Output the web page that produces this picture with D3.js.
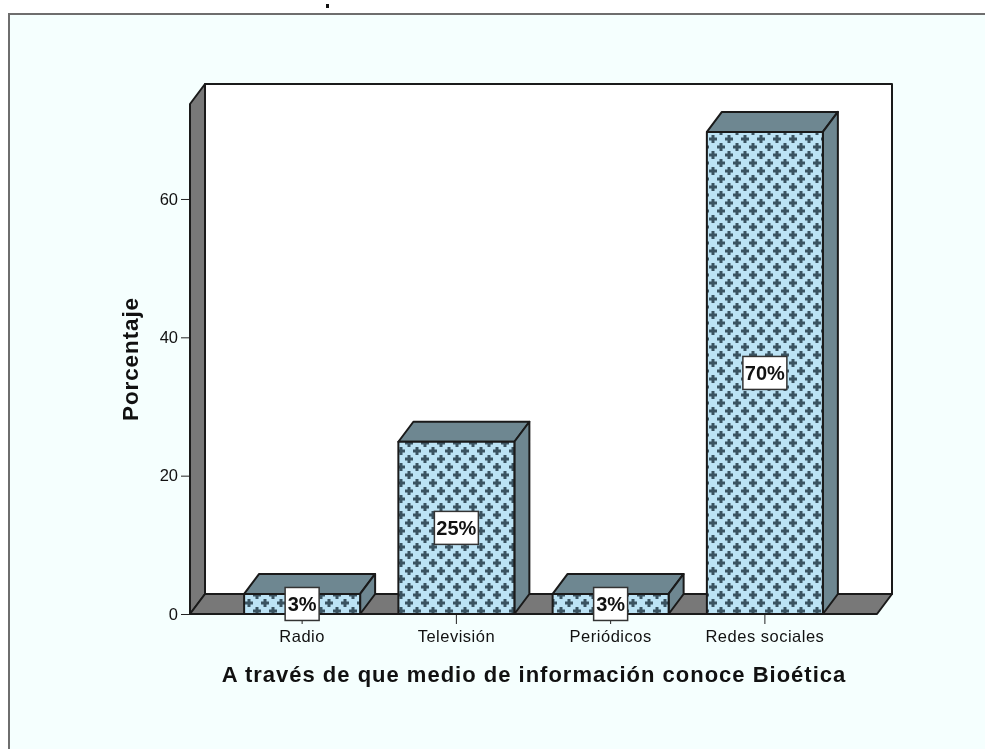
<!DOCTYPE html>
<html>
<head>
<meta charset="utf-8">
<script src="https://d3js.org/d3.v7.min.js"></script>
<style>
  html, body { margin: 0; padding: 0; background: #fff; overflow: hidden; }
  svg { display: block; font-family: "Liberation Sans", Arial, sans-serif; filter: blur(0.4px); }
</style>
</head>
<body>
<svg width="985" height="749"></svg>
<script>
// Chart values
const categories = ["Radio", "Televisión", "Periódicos", "Redes sociales"];
const values = [2.9, 24.9, 2.9, 69.7];
const labels = ["3%", "25%", "3%", "70%"];
const yTicks = [0, 20, 40, 60];
const yTitle = "Porcentaje";
const xTitle = "A través de que medio de información conoce Bioética";

const svg = d3.select("svg");

// Depth of the 3D effect
const dx = 15, dy = -20;
const pLeft = 190, pRight = 877, pBottom = 614, pTop = 104;

const x = d3.scaleBand().domain(categories).range([225, 842]).paddingInner(0.248).paddingOuter(0.124);
const y = d3.scaleLinear().domain([0, 73.73]).range([pBottom, pTop]);

const line = (pts) => "M" + pts.map((p) => p.join(",")).join("L") + "Z";

// Cross pattern for the bar fronts
const defs = svg.append("defs");
const pat = defs.append("pattern")
    .attr("id", "cross")
    .attr("patternUnits", "userSpaceOnUse")
    .attr("width", 16).attr("height", 16)
    .attr("x", 5).attr("y", 7);
pat.append("rect").attr("width", 16).attr("height", 16).attr("fill", "#bce3f5");
const cross = (cx, cy) => {
    pat.append("rect").attr("x", cx - 1.5).attr("y", cy - 4).attr("width", 3).attr("height", 8).attr("fill", "#3a5361");
    pat.append("rect").attr("x", cx - 4).attr("y", cy - 1.5).attr("width", 8).attr("height", 3).attr("fill", "#3a5361");
};
cross(4, 4);
cross(12, 12);

// Panel background and frame
svg.append("rect").attr("x", 9).attr("y", 14).attr("width", 976).attr("height", 735).attr("fill", "#f5fffe");
svg.append("path").attr("d", "M9,749V14H985").attr("fill", "none").attr("stroke", "#6e6e6e").attr("stroke-width", 2);
svg.append("rect").attr("x", 326).attr("y", 4).attr("width", 3).attr("height", 4).attr("fill", "#111");

// Back wall, side wall, floor
const face = (pts, fill) => svg.append("path")
    .attr("d", line(pts))
    .attr("fill", fill)
    .attr("stroke", "#1a1a1a")
    .attr("stroke-width", 2)
    .attr("stroke-linejoin", "round");

face([[pLeft + dx, pTop + dy], [pRight + dx, pTop + dy], [pRight + dx, pBottom + dy], [pLeft + dx, pBottom + dy]], "#fff");
face([[pLeft, pTop], [pLeft + dx, pTop + dy], [pLeft + dx, pBottom + dy], [pLeft, pBottom]], "#787878");
face([[pLeft, pBottom], [pLeft + dx, pBottom + dy], [pRight + dx, pBottom + dy], [pRight, pBottom]], "#787878");

// Bars
categories.forEach((c, i) => {
    const x0 = x(c), x1 = x0 + x.bandwidth(), yv = y(values[i]);
    face([[x0, yv], [x0 + dx, yv + dy], [x1 + dx, yv + dy], [x1, yv]], "#6e8791");
    face([[x1, yv], [x1 + dx, yv + dy], [x1 + dx, pBottom + dy], [x1, pBottom]], "#6e8791");
    face([[x0, yv], [x1, yv], [x1, pBottom], [x0, pBottom]], "url(#cross)");
});

// Axes
const yAxis = svg.append("g")
    .attr("transform", `translate(${pLeft},0)`)
    .call(d3.axisLeft(y).tickValues(yTicks).tickSize(9).tickSizeOuter(0).tickPadding(3));
yAxis.select(".domain").remove();

const xAxis = svg.append("g")
    .attr("transform", `translate(0,${pBottom})`)
    .call(d3.axisBottom(x).tickSize(10).tickSizeOuter(0).tickPadding(6));
xAxis.select(".domain").remove();

svg.selectAll(".tick text")
    .attr("font-family", "Liberation Sans")
    .attr("font-size", 16.5)
    .attr("fill", "#111");
xAxis.selectAll(".tick text").attr("letter-spacing", 0.5);
svg.selectAll(".tick line").attr("stroke", "#222");

svg.append("line").attr("x1", pLeft).attr("x2", pRight).attr("y1", pBottom).attr("y2", pBottom)
    .attr("stroke", "#1a1a1a").attr("stroke-width", 2);
svg.append("line").attr("x1", pLeft).attr("x2", pLeft).attr("y1", pTop).attr("y2", pBottom)
    .attr("stroke", "#1a1a1a").attr("stroke-width", 2);

// Value labels
categories.forEach((c, i) => {
    const cx = x(c) + x.bandwidth() / 2;
    const cy = (y(values[i]) + pBottom) / 2;
    const w = labels[i].length === 2 ? 34 : 44, h = 33;
    svg.append("rect")
        .attr("x", cx - w / 2).attr("y", cy - h / 2).attr("width", w).attr("height", h)
        .attr("fill", "#fff").attr("stroke", "#333").attr("stroke-width", 1.5);
    svg.append("text")
        .attr("x", cx).attr("y", cy + 7)
        .attr("text-anchor", "middle")
        .attr("font-size", 20).attr("font-weight", "bold").attr("fill", "#111")
        .text(labels[i]);
});

// Axis titles
svg.append("text")
    .attr("transform", "translate(138,359) rotate(-90)")
    .attr("text-anchor", "middle")
    .attr("font-size", 22.5).attr("font-weight", "bold").attr("letter-spacing", 0.9).attr("fill", "#111")
    .text(yTitle);
svg.append("text")
    .attr("x", 534).attr("y", 682)
    .attr("text-anchor", "middle")
    .attr("font-size", 22).attr("font-weight", "bold").attr("letter-spacing", 1).attr("fill", "#111")
    .text(xTitle);
</script>
</body>
</html>
